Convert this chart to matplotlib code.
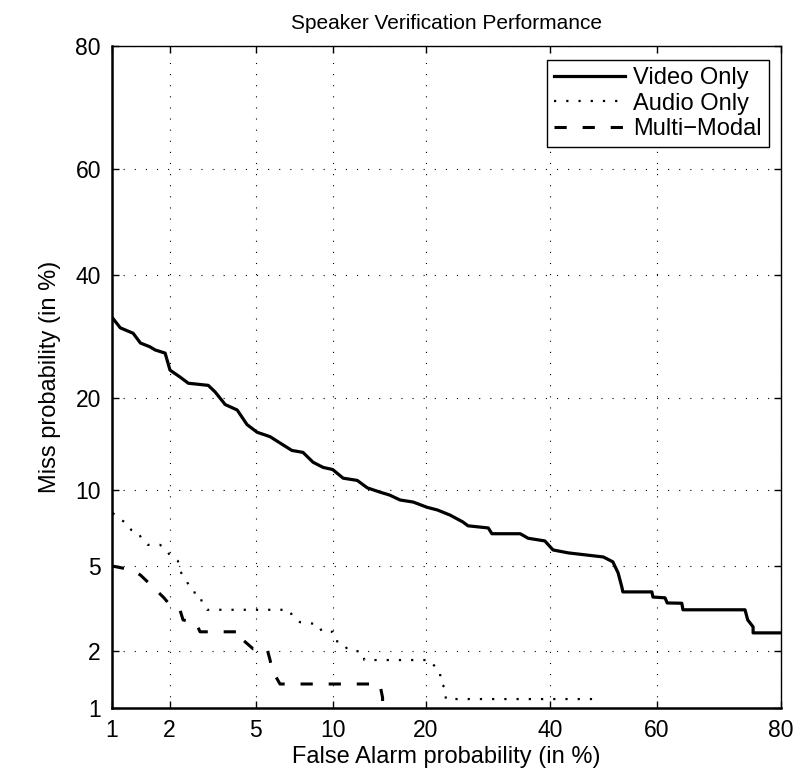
import numpy as np
import matplotlib
matplotlib.use('Agg')
import matplotlib.pyplot as plt
from statistics import NormalDist

plt.rcParams['font.family'] = ['Liberation Sans', 'DejaVu Sans']

# ---- data (percent) ----
video_fa = [1.0, 1.11, 1.30, 1.42, 1.59, 1.69, 1.90, 2.01, 2.25, 2.47, 3.07, 3.30, 3.67, 4.15, 4.58,
            5.06, 5.73, 6.29, 7.02, 7.75, 8.47, 9.23, 10.0, 10.9, 12.2, 13.2, 14.5, 15.6, 16.8, 18.4,
            20.2, 21.6, 23.4, 25.3, 26.1, 29.3, 29.9, 34.7, 36.1, 39.1, 40.6, 43.4, 50.0, 51.8, 52.8,
            53.5, 53.7, 59.1, 59.3, 61.5, 61.9, 64.5, 64.7, 74.9, 75.3, 76.1, 76.1, 80.0]
video_miss = [32.4, 30.6, 29.7, 28.1, 27.5, 27.0, 26.5, 23.9, 22.9, 22.0, 21.7, 20.8, 19.1, 18.4, 16.6,
              15.7, 15.2, 14.5, 13.7, 13.5, 12.5, 12.0, 11.8, 11.0, 10.8, 10.15, 9.8, 9.55, 9.16, 9.0,
              8.6, 8.4, 8.03, 7.55, 7.29, 7.15, 6.78, 6.78, 6.5, 6.34, 5.82, 5.66, 5.44, 5.19, 4.65,
              4.03, 3.83, 3.83, 3.63, 3.6, 3.41, 3.4, 3.17, 3.17, 2.84, 2.63, 2.46, 2.46]

audio_fa = [1.01, 1.09, 1.21, 1.27, 1.38, 1.45, 1.55, 1.79, 1.92, 2.03, 2.2, 2.25, 2.41, 2.58, 2.81,
            2.87, 3.03, 6.84, 7.09, 7.55, 8.83, 9.15, 10.0, 10.2, 10.9, 11.3, 12.7, 12.9, 20.6, 21.3,
            22.0, 22.0, 22.7, 22.8, 48.8]
audio_miss = [8.18, 7.75, 7.47, 7.02, 6.89, 6.40, 6.11, 6.11, 5.88, 5.44, 5.23, 4.74, 4.33, 3.83, 3.75,
              3.41, 3.17, 3.17, 2.93, 2.77, 2.71, 2.49, 2.49, 2.25, 2.2, 2.03, 1.98, 1.80, 1.80, 1.66,
              1.56, 1.37, 1.29, 1.12, 1.12]

mm_fa = [1.0, 1.28, 1.42, 1.55, 1.67, 1.88, 1.97, 2.25, 2.33, 2.69, 2.81, 4.36, 4.40, 4.87, 5.57,
         5.73, 5.84, 6.29, 14.5, 14.8, 14.8]
mm_miss = [4.98, 4.79, 4.55, 4.24, 3.99, 3.59, 3.41, 3.17, 2.84, 2.75, 2.49, 2.49, 2.27, 2.05, 2.05,
           1.80, 1.60, 1.35, 1.35, 1.14, 0.9]

tick_vals = [1, 2, 5, 10, 20, 40, 60, 80]
tick_labels = ['1', '2', '5', '10', '20', '40', '60', '80']
series_names = ['Video Only', 'Audio Only', 'Multi\u2212Modal']

# ---- normal-deviate (probit) scale ----
_nd = NormalDist()
_ppf = np.vectorize(lambda q: _nd.inv_cdf(min(max(q, 1e-9), 1 - 1e-9)), otypes=[float])
_cdf = np.vectorize(lambda z: _nd.cdf(z), otypes=[float])

def fwd(p):
    return _ppf(np.asarray(p, float) / 100.0)

def inv(z):
    return 100.0 * _cdf(np.asarray(z, float))

fig = plt.figure(figsize=(8.01, 7.78), dpi=100)
ax = fig.add_axes([112 / 801, 1 - 708 / 778, 669 / 801, 662 / 778])
ax.set_xscale('function', functions=(fwd, inv))
ax.set_yscale('function', functions=(fwd, inv))

ax.plot(video_fa, video_miss, color='black', lw=2.3, solid_joinstyle='round', label=series_names[0])
ax.plot(audio_fa, audio_miss, color='black', lw=1.6, linestyle=(0, (1, 4.5)), label=series_names[1])
ax.plot(mm_fa, mm_miss, color='black', lw=2.2, linestyle=(0, (4.0, 5.2)), label=series_names[2])

ax.set_xlim(1, 80)
ax.set_ylim(1, 80)
ax.set_xticks(tick_vals)
ax.set_xticklabels(tick_labels)
ax.set_yticks(tick_vals)
ax.set_yticklabels(tick_labels)
ax.minorticks_off()

ax.grid(True, color='black', lw=0.8, linestyle=(0, (1, 9)))
ax.tick_params(direction='in', top=True, right=True, length=5, width=1, labelsize=16.5, pad=8, colors='black')
for side in ['left', 'bottom']:
    ax.spines[side].set_linewidth(1.8)
for side in ['top', 'right']:
    ax.spines[side].set_linewidth(1.0)

ax.set_title('Speaker Verification Performance', fontsize=15, pad=12)
ax.set_xlabel('False Alarm probability (in %)', fontsize=17, labelpad=3)
ax.set_ylabel('Miss probability (in %)', fontsize=17, labelpad=10)

leg = ax.legend(loc='upper right', bbox_to_anchor=(0.982, 0.979), borderaxespad=0,
                fontsize=17, frameon=True, fancybox=False, framealpha=1, edgecolor='black',
                handlelength=3.0, handletextpad=0.35, labelspacing=0.15, borderpad=0.3)
leg.get_frame().set_linewidth(1.0)

fig.savefig('out.png', dpi=100)
